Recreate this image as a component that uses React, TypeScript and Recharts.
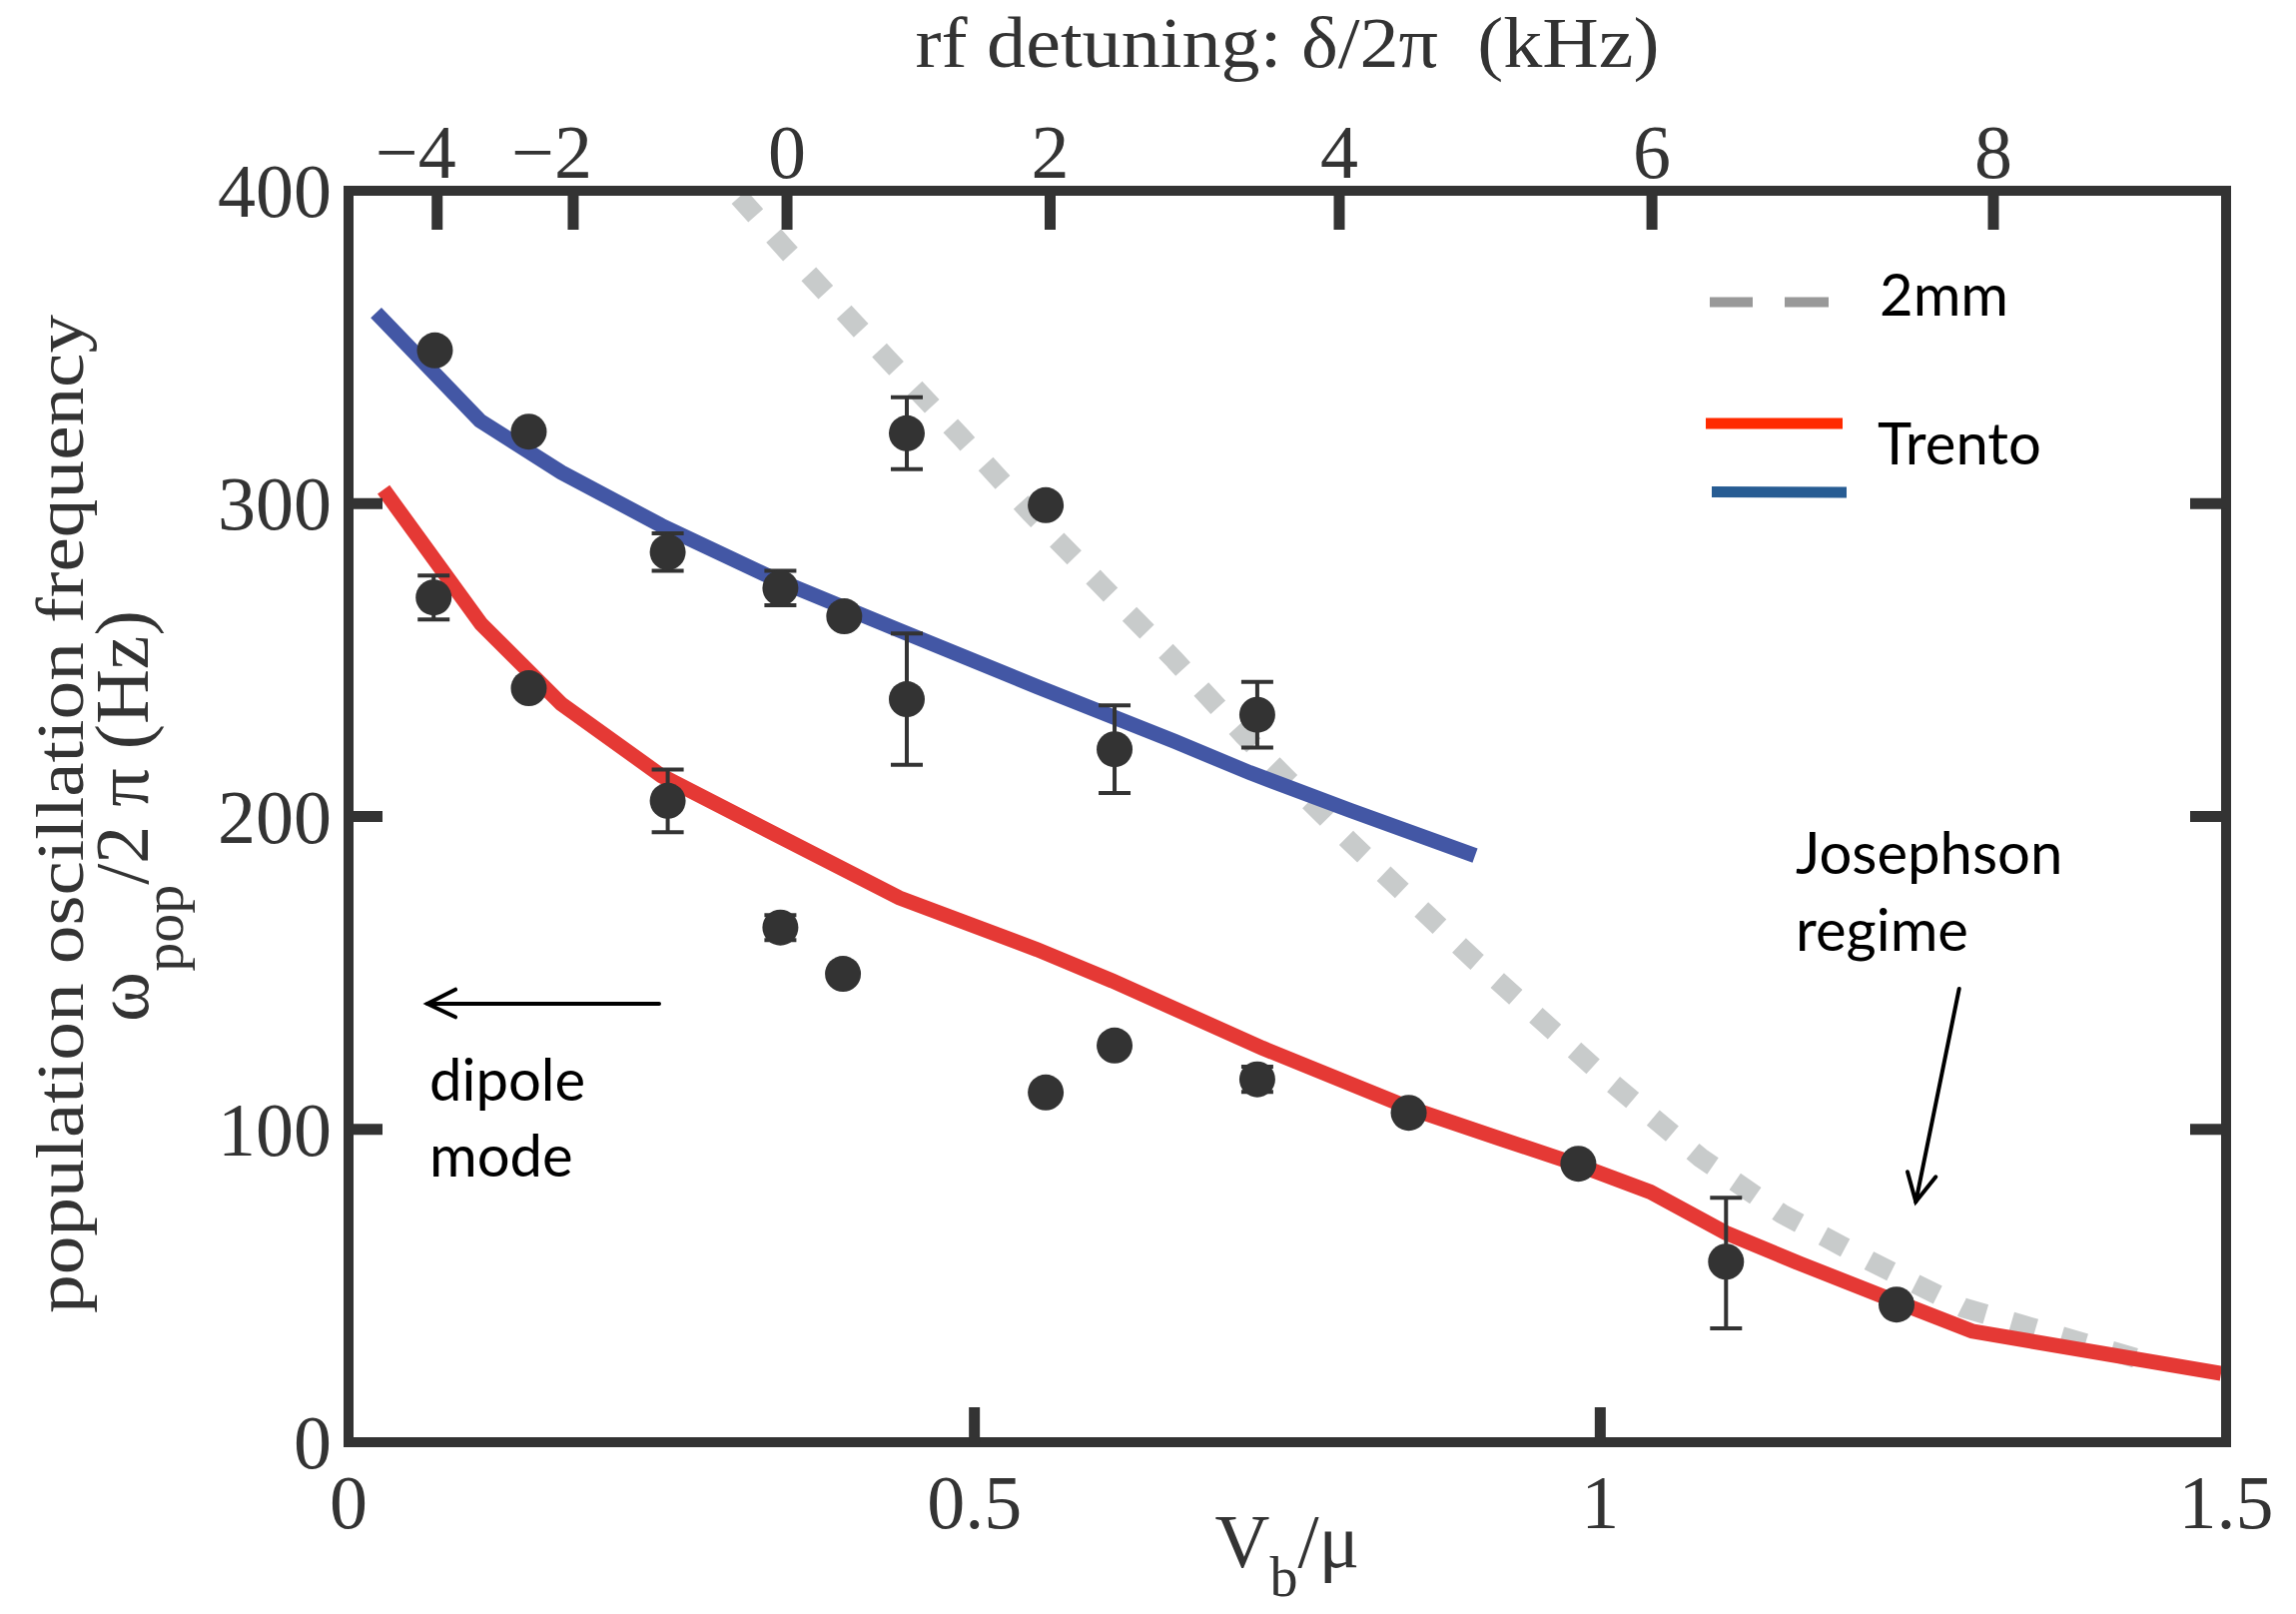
import React from "react";
import { ComposedChart, Line, Scatter, ErrorBar, XAxis, YAxis } from "recharts";

const W = 2299;
const H = 1616;

// axes
const xTicks = [0, 0.5, 1, 1.5];
const yTicks = [0, 100, 200, 300, 400];
// top axis: rf detuning labels and where they sit on the V_b/mu scale
const detuneLabels = ["\u22124", "\u22122", "0", "2", "4", "6", "8"];
const detunePos = [0.0708, 0.1795, 0.3503, 0.5605, 0.7915, 1.0413, 1.3141];

// measured points: V_b/mu, frequency (Hz), error bar below / above
const dotV = [0.069, 0.144, 0.255, 0.345, 0.396, 0.446, 0.557, 0.446, 0.612, 0.726, 0.068,
  0.144, 0.255, 0.345, 0.395, 0.557, 0.612, 0.726, 0.847, 0.9825, 1.1005, 1.2367];
const dotF = [349, 323, 284.5, 273, 264, 322.5, 299.5, 237.5, 221.5, 232.5, 270,
  241, 205, 164.5, 149.7, 111.8, 126.8, 116, 105.3, 89, 57.7, 44];
const dotErrLo = [0, 0, 6, 5.5, 0, 11.5, 0, 21, 14, 10.5, 7, 0, 10, 4, 0, 0, 0, 4, 0, 0, 21.3, 0];
const dotErrHi = [0, 0, 6, 5.5, 0, 11.5, 0, 21, 14, 10.5, 7, 0, 10, 4, 0, 0, 0, 4, 0, 0, 20.4, 0];

// Trento theory, upper branch (blue)
const blueV = [0.022, 0.105, 0.17, 0.25, 0.34, 0.44, 0.55, 0.66, 0.72, 0.8, 0.9];
const blueF = [361, 326.5, 310, 293, 276, 259.5, 241.5, 224, 214, 202, 187.5];

// Trento theory, lower branch (red)
const redV = [0.028, 0.106, 0.17, 0.25, 0.34, 0.44, 0.55, 0.61, 0.73, 0.85, 0.92, 0.98,
  1.04, 1.1, 1.16, 1.23, 1.297, 1.496];
const redF = [304.5, 261.5, 236, 213, 194.5, 174, 157.5, 147.5, 126, 106.5, 97, 89,
  80, 67, 57, 46, 35.5, 22];

// 2mm model (grey dashed)
const grayV = [0.312, 0.35, 0.43, 0.49, 0.545, 0.6, 0.66, 0.715, 0.8, 0.9, 1.0, 1.08,
  1.145, 1.215, 1.29, 1.35, 1.44];
const grayF = [398, 381, 346.5, 321, 297, 274.5, 250, 226, 192, 154, 118, 91,
  73, 58, 43, 36, 25.5];

const dots = dotV.map((v, i) => ({ v, f: dotF[i], err: [dotErrLo[i], dotErrHi[i]] }));
const blue = blueV.map((v, i) => ({ v, f: blueF[i] }));
const red = redV.map((v, i) => ({ v, f: redF[i] }));
const gray = grayV.map((v, i) => ({ v, f: grayF[i] }));

const serif = "'Liberation Serif', 'Times New Roman', serif";
const sans = "Lato, 'Open Sans', sans-serif";
const ink = "#333";
const frame = { stroke: ink, strokeWidth: 10, strokeLinecap: "square" as const };

function LeftTick(props: any) {
  const { x, y, payload } = props;
  const v = payload.value;
  return (
    <g>
      {v > 0 && v < 400 && <line x1={x} y1={y} x2={x + 34} y2={y} stroke={ink} strokeWidth={11} />}
      <text x={x - 17} y={y + 26} textAnchor="end" fontFamily={serif} fontSize={76} fill={ink}>{v}</text>
    </g>
  );
}

function RightTick(props: any) {
  const { x, y, payload } = props;
  const v = payload.value;
  if (v <= 0 || v >= 400) return <g />;
  return <line x1={x} y1={y} x2={x - 36} y2={y} stroke={ink} strokeWidth={11} />;
}

function BottomTick(props: any) {
  const { x, y, payload } = props;
  const v = payload.value;
  return (
    <g>
      {v > 0 && v < 1.5 && <line x1={x} y1={y} x2={x} y2={y - 35} stroke={ink} strokeWidth={11} />}
      <text x={x} y={y + 86} textAnchor="middle" fontFamily={serif} fontSize={76} fill={ink}>{String(v)}</text>
    </g>
  );
}

function TopTick(props: any) {
  const { x, y, payload } = props;
  const i = detunePos.indexOf(payload.value);
  return (
    <g>
      <line x1={x} y1={y} x2={x} y2={y + 39} stroke={ink} strokeWidth={11} />
      <text x={x + 19} y={y - 13} textAnchor="end" fontFamily={serif} fontSize={76} fill={ink}>{detuneLabels[i]}</text>
    </g>
  );
}

const Dot = (p: any) => <circle cx={p.cx} cy={p.cy} r={18} fill={ink} />;

export default function App() {
  return (
    <div style={{ position: "absolute", left: 0, top: 0, width: W, height: H, background: "#fff" }}>
      <ComposedChart width={W} height={H} margin={{ top: 131, right: 20, bottom: 112, left: 249 }}>
        <XAxis xAxisId="bottom" dataKey="v" type="number" domain={[0, 1.5]} ticks={xTicks} interval={0}
          allowDataOverflow height={60} axisLine={frame} tickLine={false} tickSize={0} tickMargin={0} tick={BottomTick} />
        <XAxis xAxisId="top" dataKey="v" orientation="top" type="number" domain={[0, 1.5]} ticks={detunePos} interval={0}
          allowDataOverflow height={60} axisLine={frame} tickLine={false} tickSize={0} tickMargin={0} tick={TopTick} />
        <YAxis yAxisId="left" dataKey="f" type="number" domain={[0, 400]} ticks={yTicks} interval={0}
          allowDataOverflow width={100} axisLine={frame} tickLine={false} tickSize={0} tickMargin={0} tick={LeftTick} />
        <YAxis yAxisId="right" orientation="right" type="number" domain={[0, 400]} ticks={yTicks} interval={0}
          allowDataOverflow width={50} axisLine={frame} tickLine={false} tickSize={0} tickMargin={0} tick={RightTick} />

        {/* the 2mm curve is tied to the top axis, which shares the same V_b/mu range */}
        <Line xAxisId="top" yAxisId="left" data={gray} dataKey="f" type="linear" stroke="#C8CBCB"
          strokeWidth={20} strokeDasharray="25 27" dot={false} activeDot={false} isAnimationActive={false} />
        <Line xAxisId="bottom" yAxisId="left" data={blue} dataKey="f" type="linear" stroke="#4357A5"
          strokeWidth={15} dot={false} activeDot={false} isAnimationActive={false} />
        <Line xAxisId="bottom" yAxisId="left" data={red} dataKey="f" type="linear" stroke="#E53935"
          strokeWidth={15} dot={false} activeDot={false} isAnimationActive={false} />
        <Scatter xAxisId="bottom" yAxisId="left" data={dots} dataKey="f" shape={Dot} isAnimationActive={false}>
          <ErrorBar dataKey="err" direction="y" width={16} stroke={ink} strokeWidth={4} />
        </Scatter>
      </ComposedChart>

      <svg width={W} height={H} style={{ position: "absolute", left: 0, top: 0, pointerEvents: "none" }}>
        {/* axis titles */}
        <text x={1289} y={67} textAnchor="middle" fontFamily={serif} fontSize={72} fill={ink}
          textLength={745} lengthAdjust="spacingAndGlyphs" style={{ whiteSpace: "pre" }}>
          {"rf detuning: \u03b4/2\u03c0  (kHz)"}
        </text>
        <text x={1289} y={1569} textAnchor="middle" fontFamily={serif} fontSize={76} fill={ink}>
          V<tspan fontSize={56} dy={29}>b</tspan><tspan dy={-29}>{"/\u03bc"}</tspan>
        </text>
        <text transform="translate(83,815) rotate(-90)" textAnchor="middle" fontFamily={serif}
          fontSize={68} fill={ink} textLength={1000} lengthAdjust="spacingAndGlyphs">
          population oscillation frequency
        </text>
        <text transform="translate(148,817) rotate(-90)" textAnchor="middle" fontFamily={serif}
          fontSize={76} fill={ink}>
          {"\u03c9"}<tspan fontSize={58} dy={35}>pop</tspan><tspan dy={-35}>{"/2 \u03c0 (Hz)"}</tspan>
        </text>

        {/* legend */}
        <rect x={1712} y={297.5} width={43} height={10} fill="#999" />
        <rect x={1787} y={297.5} width={44} height={10} fill="#999" />
        <line x1={1708} y1={424} x2={1845} y2={424} stroke="#FF2A00" strokeWidth={11} />
        <line x1={1714} y1={492.5} x2={1849} y2={493} stroke="#275C93" strokeWidth={11} />

        <g fontFamily={sans} fontSize={58} fill="#000">
          <text x={1882} y={316}>2mm</text>
          <text x={1880} y={465}>Trento</text>
          <text x={1798} y={875}>Josephson</text>
          <text x={1798} y={952}>regime</text>
          <text x={430} y={1102}>dipole</text>
          <text x={430} y={1178}>mode</text>
        </g>

        {/* arrows */}
        <g stroke="#000" strokeWidth={4} strokeLinecap="round" fill="none">
          <line x1={660} y1={1005} x2={428} y2={1005} />
          <polyline points="456,990.7 428,1005 456,1018.3" />
          <line x1={1961.7} y1={990} x2={1918.3} y2={1203.3} />
          <polyline points="1910,1173.3 1918.3,1203.3 1938.3,1178.3" />
        </g>
      </svg>
    </div>
  );
}
